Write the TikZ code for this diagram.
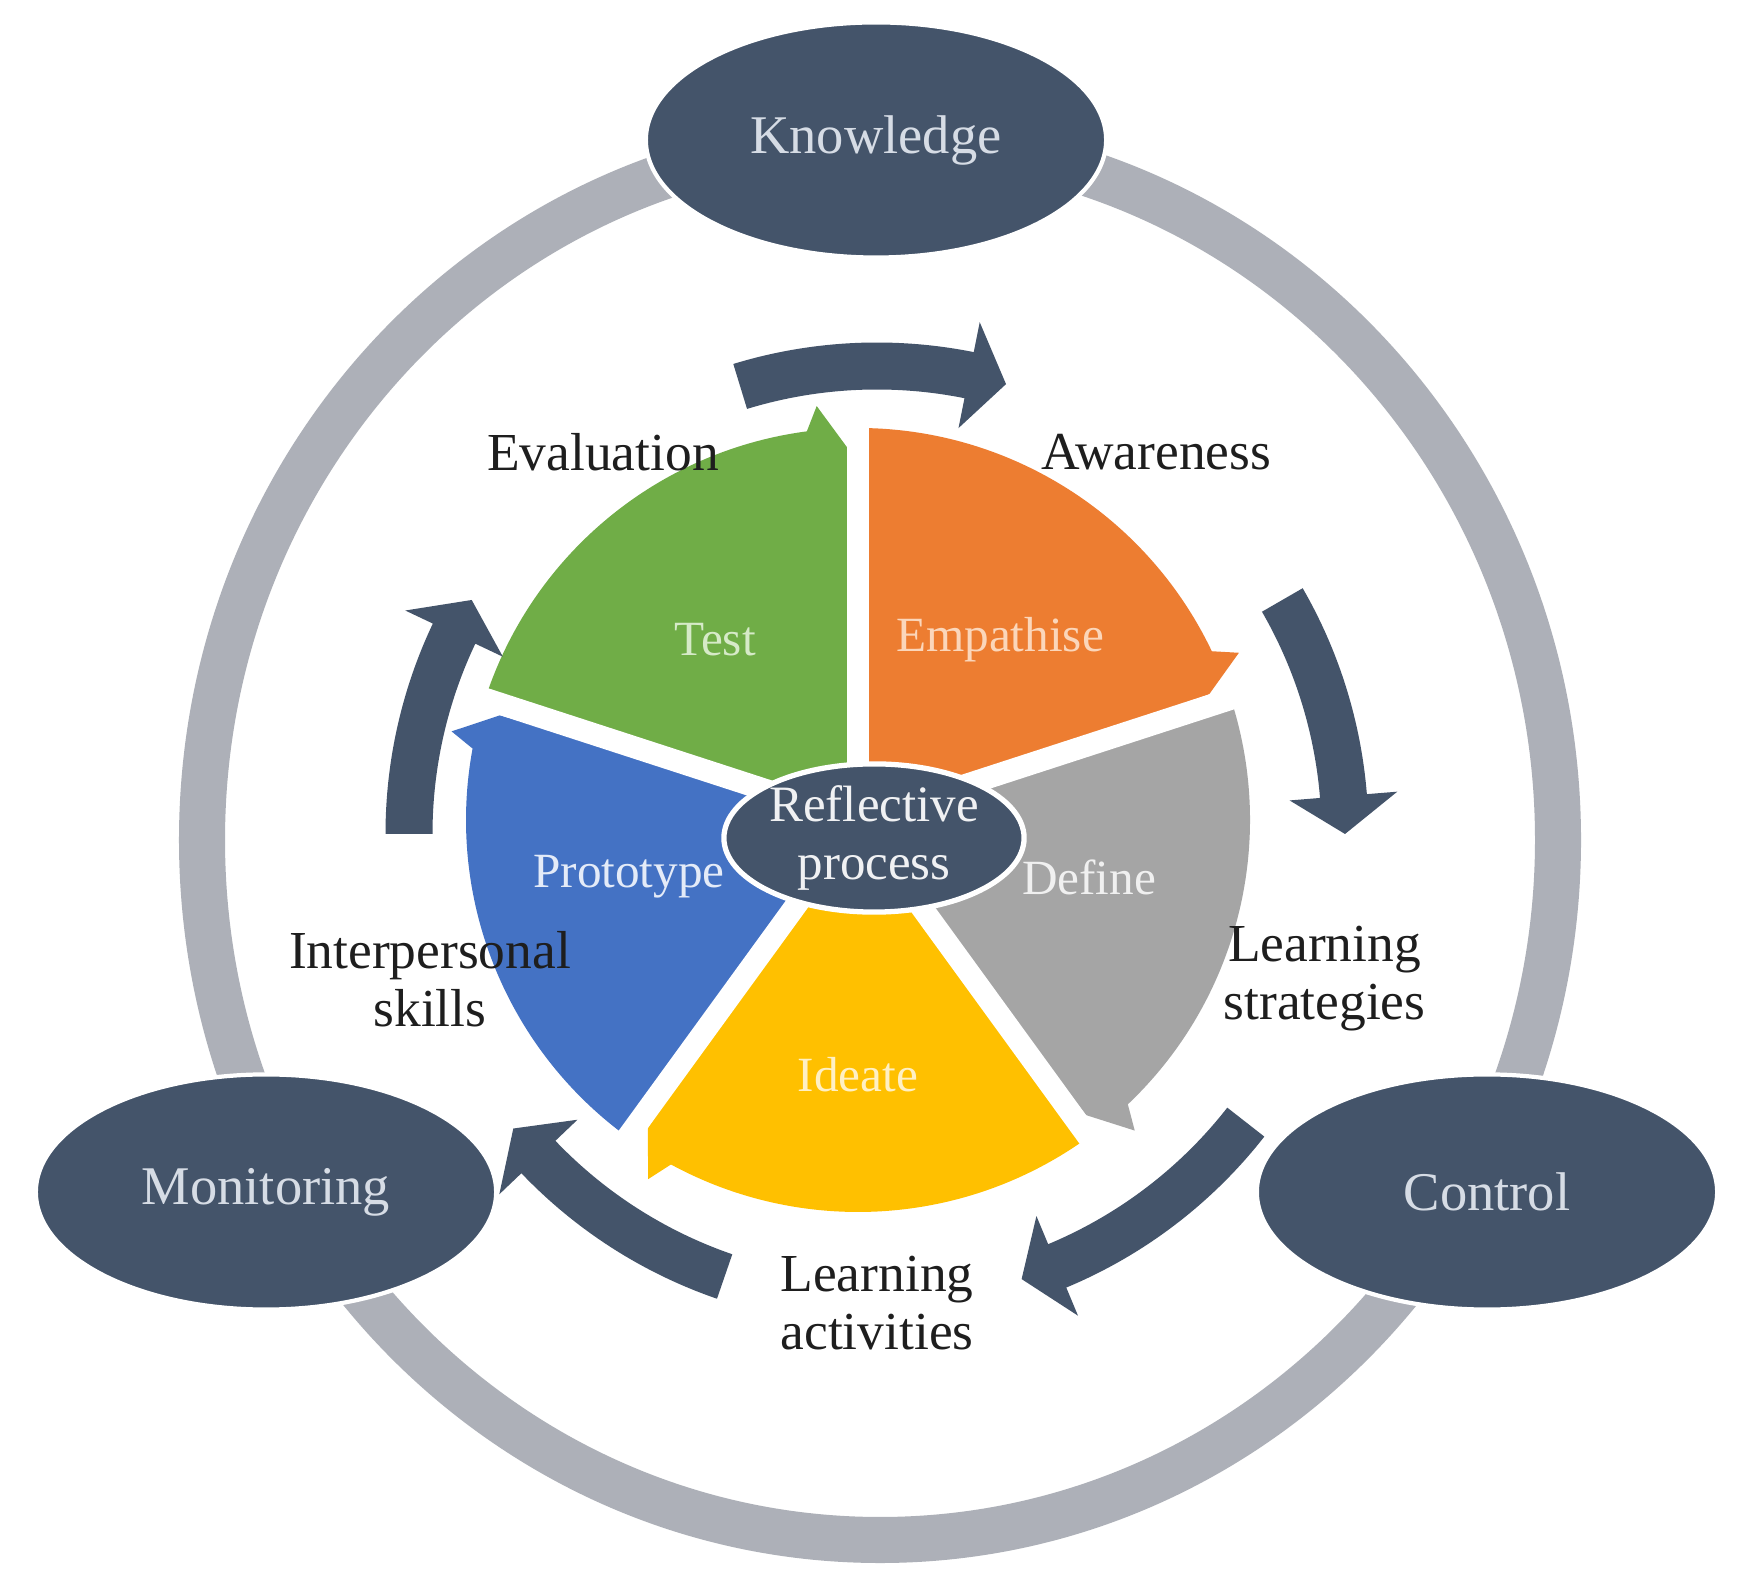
\documentclass[tikz,border=0pt]{standalone}
\usepackage{fontspec}
\setmainfont{Liberation Serif}
\usepackage{tikz}
\usetikzlibrary{shapes.geometric,positioning}

\definecolor{navy}{HTML}{44546A}
\definecolor{navytext}{HTML}{D6DCE5}
\definecolor{ringgray}{RGB}{173,176,184}
\definecolor{labeltext}{HTML}{1E1E1E}
\definecolor{seggreen}{HTML}{70AD47}
\definecolor{segorange}{HTML}{ED7D31}
\definecolor{seggray}{HTML}{A5A5A5}
\definecolor{segyellow}{HTML}{FFC000}
\definecolor{segblue}{HTML}{4472C4}

\newcommand{\pieseg}[2]{%
    \fill[#2] (0,0) -- (#1:392) arc[start angle=#1, end angle=#1-64.5, radius=392]
        -- (#1-66.3:416) -- (#1-70.3:373) -- cycle;}
\newcommand{\cycarrow}[2]{%
    \fill[navy] (#1:491.5) arc[start angle=#1, end angle=#2+4.65, radius=491.5]
        -- (#2+4.65:522) -- (#2:468) -- (#2+4.65:414) -- (#2+4.65:444.5)
        arc[start angle=#2+4.65, end angle=#1, radius=444.5] -- cycle;}

\begin{document}
\begin{tikzpicture}[x=0.01cm,y=0.01cm,
    outer/.style={ellipse,fill=navy,draw=white,line width=1.2pt,minimum width=4.6cm,
        minimum height=2.35cm,inner sep=0pt,text=navytext,font=\fontsize{15.5}{18}\selectfont},
    textlabel/.style={align=center,text=labeltext,font=\fontsize{15.2}{16.5}\selectfont},
    seglabel/.style={font=\fontsize{14}{16.5}\selectfont},
    gap/.style={white,line width=0.22cm}]
    \fill[white] (0,0) rectangle (1752,1588);
    \useasboundingbox (0,0) rectangle (1752,1588);

    \draw[ringgray,line width=0.46cm] (880,748) ellipse [x radius=678,y radius=700];

    \begin{scope}[shift={(858,768)}]
        \pieseg{162}{seggreen}
        \pieseg{90}{segorange}
        \pieseg{18}{seggray}
        \pieseg{-54}{segyellow}
        \pieseg{-126}{segblue}
        \foreach \b in {90,18,-54,-126,162}
            \draw[gap] (0,0) -- (\b:430);
    \end{scope}

    \begin{scope}[shift={(877,754)}]
        \cycarrow{107}{74}
        \cycarrow{30}{0}
        \cycarrow{-38}{-72}
        \cycarrow{-109}{-141}
        \cycarrow{180}{150}
    \end{scope}

    \node[outer] (knowledge) at (876,1448) {Knowledge};
    \node[outer] (monitoring) at (266,396) {Monitoring};
    \node[outer] (control) at (1487,396) {Control};

    \node[ellipse,fill=navy,draw=white,line width=1.5pt,minimum width=3cm,minimum height=1.36cm,
        inner sep=0pt,align=center,text=white!92!navy,font=\fontsize{14.5}{16.5}\selectfont]
        (reflect) at (874,750) {Reflective\\process};

    \node[seglabel,text={rgb,255:red,214;green,234;blue,200}] (test) at (715,948) {Test};
    \node[seglabel,text={rgb,255:red,251;green,214;blue,186}] (empathise) at (1000,948) {Empathise};
    \node[seglabel,text={rgb,255:red,240;green,240;blue,240}] (define) at (1089,711) {Define};
    \node[seglabel,text={rgb,255:red,255;green,240;blue,196}] (ideate) at (858,513) {Ideate};
    \node[seglabel,text={rgb,255:red,228;green,235;blue,248}] (prototype) at (629,711) {Prototype};

    \node[textlabel] (evaluation) at (603,1136) {Evaluation};
    \node[textlabel] (awareness) [right of=evaluation,node distance=5.53cm] {Awareness};
    \node[textlabel] (interpersonal) at (430,609) {Interpersonal\\skills};
    \node[textlabel] (strategies) [right of=interpersonal,node distance=8.94cm] {Learning\\strategies};
    \node[textlabel] (activities) at (877,285) {Learning\\activities};
\end{tikzpicture}
\end{document}
